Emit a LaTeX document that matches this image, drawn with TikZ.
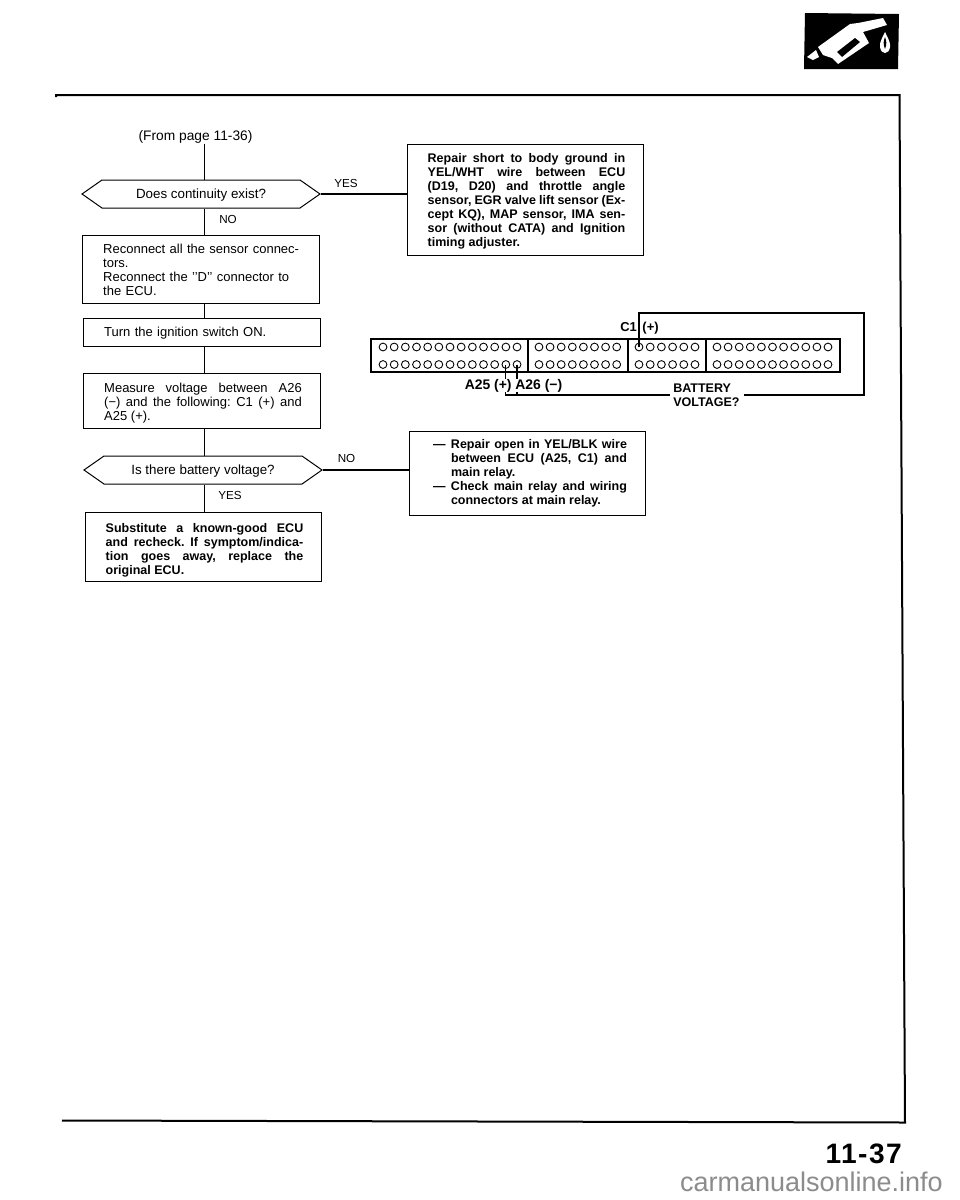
\documentclass[tikz,border=0pt]{standalone}
\usepackage{fontspec}
\setmainfont{Liberation Sans}
\usepackage{tikz}
\usetikzlibrary{positioning,calc,shapes.symbols}
\frenchspacing

\begin{document}
\begin{tikzpicture}[
  x=0.25mm, y=-0.25mm,
  every node/.style={font=\fontsize{9.25}{9.96}\selectfont, inner sep=0pt},
  hexa/.style={signal, signal to=west and east, signal pointer angle=70, draw, line width=0.25mm, minimum height=7mm, font=\fontsize{9.5}{9.96}\selectfont},
  block/.style={draw, line width=0.25mm, minimum width=59mm},
  txt/.style={text width=49.4mm, align=left},
  jtxt/.style={text width=49.4mm, align=justify},
  boldtxt/.style={jtxt, font=\fontsize{8.9}{9.96}\selectfont\bfseries},
  lbl/.style={font=\fontsize{8.3}{9.96}\selectfont},
  pinlbl/.style={font=\fontsize{8.9}{9.96}\selectfont\bfseries},
  section/.style={draw, line width=0.5mm, minimum height=8.25mm},
  pin/.style={circle, draw, line width=0.22mm, minimum size=1.95mm},
  flow/.style={line width=0.35mm},
  wire/.style={line width=0.3mm},
  frameline/.style={line width=0.5mm}
]
\fill[white] (0,0) rectangle (960,1200);
% Page frame
\coordinate (tl) at (56,95);
\coordinate (tr) at (899.5,95);
\coordinate (br) at (905,1122.5);
\coordinate (bl) at (62,1120.5);
\draw[frameline] ($(tl)+(0,2)$) -- (tl) -- (tr) -- (br) -- (bl);
% Fuel icon
\fill[black] (805,13) -- (899,14) -- (898,69) -- (804,69) -- cycle;
\fill[white] (807,57) -- (816,50) -- (819,57) -- (813,60) -- cycle;
\fill[white] (818,47) -- (850,24) -- (858,23) -- (883,18) -- (887,25) -- (863,32) -- (869,43) -- (838,64) -- (832,58) -- (823,55) -- cycle;
\fill[black] (837,52) -- (855,38) -- (860,42) -- (842,57) -- cycle;
\fill[white] (885,32) .. controls (881,40) and (879.5,43) .. (880,47) .. controls (881,55) and (889,55) .. (890,47) .. controls (890.5,43) and (889,40) .. (885,32) -- cycle;
\fill[black] (885,37) .. controls (883.5,41) and (883,44) .. (885,49) .. controls (887,44) and (886.5,41) .. (885,37) -- cycle;
% Left column
\coordinate (spine) at (204.5,0);
\node[font=\fontsize{9.8}{11}\selectfont] (from) at (195.5,137) {(From page 11-36)};
\node[hexa, minimum width=59.5mm] (does) at (201,194) {\smash{\raisebox{-3pt}{Does continuity exist?}}};
\node[block, minimum height=17mm] (reconnect) at (201,269) {};
\node[txt] (reconnecttxt) at ($(reconnect)+(1,1)$) {Reconnect all the sensor connec-\\tors.\\Reconnect the {'}{'}D{'}{'} connector to\\the ECU.};
\node[block, minimum height=7mm] (turn) at (202,332) {};
\node[txt] (turntxt) at ($(turn)+(1,1.5)$) {Turn the ignition switch ON.};
\node[block, minimum height=13.75mm] (measure) at (202,400.5) {};
\node[jtxt] (measuretxt) at ($(measure)+(1,2.5)$) {Measure voltage between A26\linebreak (−) and the following: C1 (+) and\linebreak A25 (+).};
\node[hexa, minimum width=59.5mm] (isthere) at (203,470) {\smash{\raisebox{-3pt}{Is there battery voltage?}}};
\node[block, minimum height=17.25mm] (substitute) at (203.5,546.5) {};
\node[boldtxt] (substitutetxt) at ($(substitute)+(1,3.5)$) {Substitute a known-good ECU\linebreak and recheck. If symptom/indica-\linebreak tion goes away, replace the\linebreak original ECU.};
\node[lbl, anchor=west] (no1) at (219,219) {NO};
\node[lbl, anchor=west] (yes2) at (218,495) {YES};
\draw[flow] (spine |- from.south) -- (spine |- does.north);
\draw[flow] (spine |- does.south) -- (spine |- reconnect.north);
\draw[flow] (spine |- reconnect.south) -- (spine |- turn.north);
\draw[flow] (spine |- turn.south) -- (spine |- measure.north);
\draw[flow] (spine |- measure.south) -- (spine |- isthere.north);
\draw[flow] (spine |- isthere.south) -- (spine |- substitute.north);
% Right column
\node[block, minimum height=27.75mm] (repair) at (525,199.5) {};
\node[boldtxt] (repairtxt) at ($(repair)+(1.5,2)$) {Repair short to body ground in\linebreak YEL/WHT wire between ECU\linebreak (D19, D20) and throttle angle\linebreak sensor, EGR valve lift sensor (Ex-\linebreak cept KQ), MAP sensor, IMA sen-\linebreak sor (without CATA) and Ignition\linebreak timing adjuster.};
\node[block, minimum height=21mm] (relay) at (527,473) {};
\node[boldtxt, text width=48.5mm] (relaytxt) at ($(relay)+(3,0)$) {\hangindent=4.5mm\hangafter=1\makebox[4.5mm][l]{---}Repair open in YEL/BLK wire\linebreak between ECU (A25, C1) and\linebreak main relay.\par\hangindent=4.5mm\hangafter=1\makebox[4.5mm][l]{---}Check main relay and wiring\linebreak connectors at main relay.\par};
\node[lbl] (yes1) at (346,183) {YES};
\node[lbl] (no2) at (346.5,458) {NO};
\draw[flow] (does.east) -- (does.east -| repair.west);
\draw[flow] (isthere.east) -- (isthere.east -| relay.west);
% Connector
\node[section, minimum width=39.25mm] (seca) at (449.5,355.5) {};
\node[section, minimum width=25mm] (secb) at (578,355.5) {};
\node[section, minimum width=19.5mm] (secc) at (667,355.5) {};
\node[section, minimum width=33.5mm] (secd) at (773,355.5) {};
\foreach \i in {1,...,13} {
  \node[pin] (atop\i) at ({383+(\i-1)*11.17},347) {};
  \node[pin] (abot\i) at ({383+(\i-1)*11.17},364.5) {};
}
\foreach \i in {1,...,8} {
  \node[pin] (btop\i) at ({539+(\i-1)*11.1},347) {};
  \node[pin] (bbot\i) at ({539+(\i-1)*11.1},364.5) {};
}
\foreach \i in {1,...,6} {
  \node[pin] (ctop\i) at ({639+(\i-1)*11.2},347) {};
  \node[pin] (cbot\i) at ({639+(\i-1)*11.2},364.5) {};
}
\foreach \i in {1,...,11} {
  \node[pin] (dtop\i) at ({717+(\i-1)*11.1},347) {};
  \node[pin] (dbot\i) at ({717+(\i-1)*11.1},364.5) {};
}
% Test wires
\coordinate (cornerne) at (864,313);
\node[pinlbl, align=left, anchor=west] (battery) at (673,395) {BATTERY\\VOLTAGE?};
\draw[wire] (ctop1.center) -- (ctop1.center |- cornerne) -- (cornerne) |- ([xshift=1mm]battery.east);
\draw[wire] ([xshift=-0.75mm]battery.west) -| (abot12.center);
\draw[wire] (abot13.center) -- (abot13.center |- battery.west);
\node[pinlbl, fill=white, font=\fontsize{9.9}{9.96}\selectfont\bfseries] (a25a26) at (513.5,385.5) {A25 (+) A26 (−)};
\node[pinlbl, font=\fontsize{9.2}{9.96}\selectfont\bfseries] (c1) at (639.5,328.5) {C1\hspace{1.4mm}(+)};
% Page number and site
\node[font=\fontsize{20}{24}\selectfont\bfseries\addfontfeature{LetterSpace=5}, anchor=base east] (pageno) at (902,1163) {11-37};
\node[font=\fontsize{19.2}{22}\selectfont, text=black!45, anchor=base east] (site) at (943,1191) {carmanualsonline.info};
\end{tikzpicture}
\end{document}
